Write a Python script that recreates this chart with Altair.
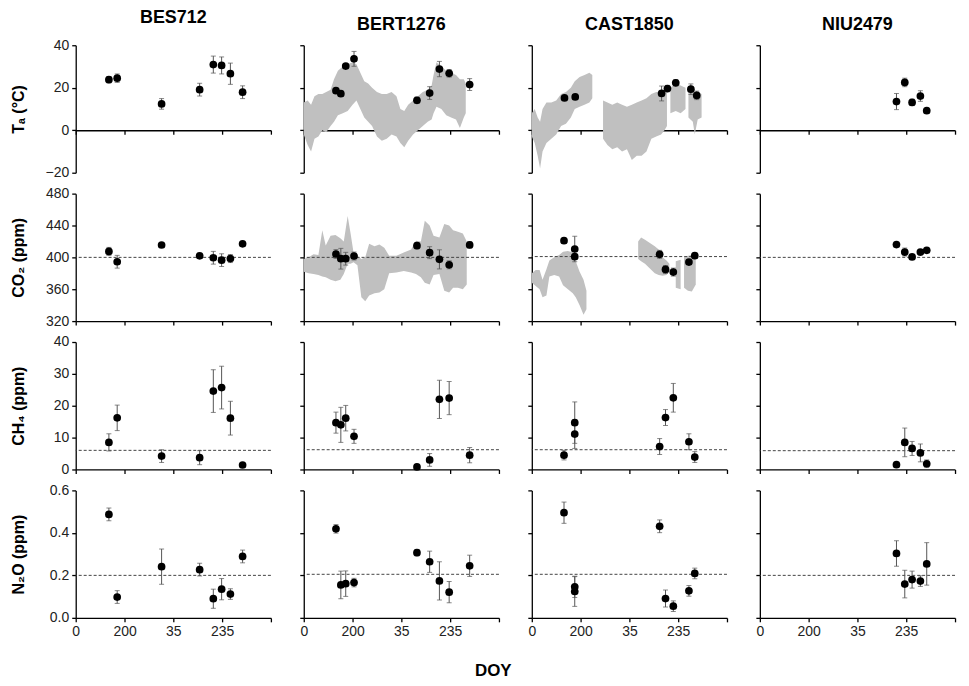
import altair as alt
import pandas as pd

FONT = "Liberation Sans, Arial, DejaVu Sans"

sites = ["BES712", "BERT1276", "CAST1850", "NIU2479"]
row_titles = ["Tₐ (°C)", "CO₂ (ppm)", "CH₄ (ppm)", "N₂O (ppm)"]
x_tick_values = [0, 1, 2, 3, 4]
x_tick_labels = ["0", "200", "35", "235", ""]

ta_ticks = [-20, 0, 20, 40]
co2_ticks = [320, 360, 400, 440, 480]
ch4_ticks = [0, 10, 20, 30, 40]
n2o_ticks = [0.0, 0.2, 0.4, 0.6]

# ---- BES712 ----
bes_x = [0.68, 0.85, 1.76, 2.54, 2.82, 2.99, 3.17, 3.42]
bes_ta_v = [23.8, 24.5, 12.4, 19.1, 30.9, 30.5, 26.6, 17.9]
bes_ta_e = [1.5, 2.0, 2.5, 3.0, 4.0, 4.0, 5.0, 3.0]
bes_co2_v = [407.5, 394.5, 415.5, 402.0, 399.5, 396.5, 398.5, 417.0]
bes_co2_e = [5, 8, 2, 3, 8, 8, 5, 3]
bes_ch4_v = [8.5, 16.2, 4.2, 3.7, 24.6, 25.7, 16.1, 1.4]
bes_ch4_e = [2.7, 4.0, 2.0, 2.2, 6.7, 6.7, 5.3, 0.4]
bes_n2o_v = [0.487, 0.098, 0.241, 0.227, 0.090, 0.135, 0.112, 0.289]
bes_n2o_e = [0.03, 0.03, 0.083, 0.03, 0.045, 0.05, 0.025, 0.03]

# ---- BERT1276 ----
bert_x = [0.66, 0.76, 0.86, 1.03, 2.32, 2.58, 2.78, 2.98, 3.40]
bert_ta_v = [18.6, 17.2, 30.2, 33.6, 14.1, 17.5, 28.8, 26.8, 21.5]
bert_ta_e = [1.0, 1.0, 1.0, 3.5, 1.5, 3.0, 3.6, 1.8, 2.8]
bert_co2_v = [404.2, 398.3, 398.3, 401.7, 414.7, 405.9, 397.5, 390.7, 415.6]
bert_co2_e = [5.5, 13, 8, 5, 4, 7.5, 12, 5, 4]
bert_ch4_v = [14.7, 14.0, 16.1, 10.4, 0.8, 3.0, 22.0, 22.4, 4.5]
bert_ch4_e = [3.3, 5.5, 4.0, 2.2, 0.3, 2.0, 6.0, 5.2, 2.4]
bert_n2o_v = [0.419, 0.155, 0.161, 0.166, 0.307, 0.264, 0.174, 0.121, 0.245]
bert_n2o_e = [0.02, 0.065, 0.06, 0.02, 0.015, 0.05, 0.09, 0.05, 0.05]

# ---- CAST1850 ----
cast_ta_x = [0.67, 0.89, 2.66, 2.78, 2.95, 3.26, 3.38]
cast_ta_v = [15.2, 15.7, 17.3, 19.6, 22.3, 19.3, 16.4]
cast_ta_e = [1.0, 1.0, 3.5, 1.5, 1.5, 2.5, 2.0]
cast_x = [0.66, 0.88, 0.88, 2.62, 2.74, 2.90, 3.22, 3.34]
cast_co2_v = [421.0, 410.5, 400.8, 403.8, 384.8, 381.5, 394.1, 402.1]
cast_co2_e = [3, 16, 3, 5, 5, 5, 3, 3]
cast_ch4_v = [4.5, 14.7, 11.1, 7.2, 16.3, 22.5, 8.7, 3.9]
cast_ch4_e = [1.5, 6.5, 4.5, 2.5, 2.5, 4.5, 2.5, 1.7]
cast_n2o_v = [0.495, 0.146, 0.124, 0.431, 0.091, 0.055, 0.127, 0.209]
cast_n2o_e = [0.05, 0.05, 0.07, 0.03, 0.04, 0.025, 0.025, 0.025]

# ---- NIU2479 ----
niu_x = [2.80, 2.97, 3.12, 3.29, 3.42]
niu_ta_v = [13.5, 22.5, 13.1, 16.1, 9.2]
niu_ta_e = [3.8, 2.0, 1.5, 2.5, 0.5]
niu_co2_v = [416.0, 406.7, 400.6, 406.7, 408.9]
niu_co2_e = [2, 5, 3, 2, 2]
niu_ch4_v = [1.5, 8.5, 6.6, 5.2, 1.8]
niu_ch4_e = [0.3, 4.5, 2.2, 2.8, 1.2]
niu_n2o_v = [0.303, 0.159, 0.180, 0.173, 0.254]
niu_n2o_e = [0.06, 0.065, 0.04, 0.025, 0.10]

# ---- reference (dashed) levels ----
co2_ref = [400, 400, 401, 400]
ch4_ref = [6.0, 6.2, 6.2, 5.9]
n2o_ref = [0.200, 0.205, 0.205, 0.200]

# ---- continuous background records (envelope) ----
bert_ta_band_x = [0.00, 0.08, 0.15, 0.22, 0.30, 0.38, 0.46, 0.55, 0.62, 0.70, 0.80,
                  0.90, 1.00, 1.08, 1.16, 1.24, 1.32, 1.40, 1.50, 1.60, 1.70, 1.80,
                  1.90, 1.98, 2.06, 2.14, 2.24, 2.34, 2.44, 2.54, 2.62, 2.66, 2.72,
                  2.82, 2.92, 3.02, 3.12, 3.20, 3.28, 3.32]
bert_ta_band_lo = [-2, -7, -10, -4, -3, 0, -1, 2, 4, 7, 8, 9, 12, 14, 10, 6, 4, 2, -3, -5,
                   -4, -2, -3, -6, -8, -5, -2, 0, 2, 4, 5, 8, 11, 10, 7, 6, 5, 1, 6, 8]
bert_ta_band_hi = [13, 14, 12, 16, 17, 17, 18, 19, 24, 28, 30, 31, 32, 31, 27, 23, 22, 20,
                   18, 17, 17, 18, 16, 10, 9, 12, 14, 16, 18, 19, 21, 26, 32, 30, 28, 27,
                   26, 24, 24, 22]

cast_ta_band_seg = [1] * 16 + [2] * 15 + [3] * 4 + [4] * 5
cast_ta_band_x = [0.00, 0.06, 0.12, 0.17, 0.22, 0.30, 0.40, 0.50, 0.60, 0.70, 0.80, 0.88,
                  0.98, 1.08, 1.18, 1.24,
                  1.46, 1.55, 1.65, 1.75, 1.85, 1.95, 2.05, 2.15, 2.25, 2.35, 2.45, 2.55,
                  2.65, 2.72, 2.77,
                  2.84, 2.95, 3.05, 3.15,
                  3.21, 3.30, 3.34, 3.40, 3.48]
cast_ta_band_lo = [-3, -6, -12, -18, -10, -6, -4, -2, 2, 3, 6, 10, 11, 12, 13, 15,
                   -4, -7, -9, -8, -10, -9, -14, -12, -12, -10, -4, -3, -2, 0, 2,
                   8, 9, 8, 10,
                   6, 4, -2, 5, 6]
cast_ta_band_hi = [8, 10, 6, 4, 10, 13, 13, 14, 17, 18, 20, 23, 25, 26, 27, 26,
                   14, 13, 12, 13, 12, 11, 12, 13, 14, 15, 17, 18, 18, 19, 20,
                   20, 22, 21, 20,
                   19, 19, 17, 18, 17]

bert_co2_band_x = [0.00, 0.10, 0.20, 0.30, 0.38, 0.45, 0.55, 0.65, 0.75, 0.82, 0.90, 0.96,
                   1.02, 1.10, 1.18, 1.26, 1.34, 1.45, 1.55, 1.65, 1.75, 1.90, 2.05, 2.20,
                   2.30, 2.40, 2.48, 2.58, 2.66, 2.78, 2.88, 2.98, 3.06, 3.16, 3.26, 3.34]
bert_co2_band_lo = [382, 380, 379, 378, 376, 375, 372, 370, 372, 379, 392, 392, 394, 390,
                    350, 345, 352, 355, 356, 360, 380, 381, 383, 381, 379, 375, 368, 366,
                    378, 379, 358, 356, 362, 362, 360, 366]
bert_co2_band_hi = [398, 400, 404, 403, 434, 415, 427, 428, 424, 420, 452, 430, 406, 402,
                    398, 400, 417, 414, 416, 412, 402, 402, 406, 410, 421, 420, 446, 440,
                    427, 425, 442, 440, 434, 432, 430, 420]

cast_co2_band_seg = [1] * 15 + [2] * 9 + [3] * 2 + [4] * 4
cast_co2_band_x = [0.00, 0.08, 0.16, 0.22, 0.30, 0.36, 0.46, 0.56, 0.64, 0.74, 0.84, 0.90,
                   0.98, 1.06, 1.12,
                   2.18, 2.24, 2.32, 2.42, 2.52, 2.60, 2.68, 2.76, 2.82,
                   2.95, 3.05,
                   3.12, 3.20, 3.28, 3.36]
cast_co2_band_lo = [368, 364, 360, 350, 352, 376, 378, 376, 365, 360, 355, 350, 340, 328, 335,
                    398, 395, 392, 386, 380, 378, 377, 378, 382,
                    362, 360,
                    362, 358, 357, 366]
cast_co2_band_hi = [380, 384, 384, 372, 385, 396, 400, 403, 407, 408, 406, 395, 382, 372, 358,
                    420, 425, 422, 418, 414, 410, 400, 396, 392,
                    395, 397,
                    400, 402, 403, 400]

W, H = 196, 128

label_expr = " : ".join(
    f"datum.value == {v} ? '{l}'" for v, l in zip(x_tick_values, x_tick_labels)
) + " : ''"

rows = [
    dict(ticks=ta_ticks, domain=[-20, 40], fmt="d"),
    dict(ticks=co2_ticks, domain=[320, 480], fmt="d"),
    dict(ticks=ch4_ticks, domain=[0, 40], fmt="d"),
    dict(ticks=n2o_ticks, domain=[0, 0.6], fmt=".1f"),
]

points = {
    (0, 0): (bes_x, bes_ta_v, bes_ta_e),
    (1, 0): (bes_x, bes_co2_v, bes_co2_e),
    (2, 0): (bes_x, bes_ch4_v, bes_ch4_e),
    (3, 0): (bes_x, bes_n2o_v, bes_n2o_e),
    (0, 1): (bert_x, bert_ta_v, bert_ta_e),
    (1, 1): (bert_x, bert_co2_v, bert_co2_e),
    (2, 1): (bert_x, bert_ch4_v, bert_ch4_e),
    (3, 1): (bert_x, bert_n2o_v, bert_n2o_e),
    (0, 2): (cast_ta_x, cast_ta_v, cast_ta_e),
    (1, 2): (cast_x, cast_co2_v, cast_co2_e),
    (2, 2): (cast_x, cast_ch4_v, cast_ch4_e),
    (3, 2): (cast_x, cast_n2o_v, cast_n2o_e),
    (0, 3): (niu_x, niu_ta_v, niu_ta_e),
    (1, 3): (niu_x, niu_co2_v, niu_co2_e),
    (2, 3): (niu_x, niu_ch4_v, niu_ch4_e),
    (3, 3): (niu_x, niu_n2o_v, niu_n2o_e),
}

bands = {
    (0, 1): (bert_ta_band_x, bert_ta_band_lo, bert_ta_band_hi, [1] * len(bert_ta_band_x)),
    (0, 2): (cast_ta_band_x, cast_ta_band_lo, cast_ta_band_hi, cast_ta_band_seg),
    (1, 1): (bert_co2_band_x, bert_co2_band_lo, bert_co2_band_hi, [1] * len(bert_co2_band_x)),
    (1, 2): (cast_co2_band_x, cast_co2_band_lo, cast_co2_band_hi, cast_co2_band_seg),
}

refs = {1: co2_ref, 2: ch4_ref, 3: n2o_ref}


def make_panel(r, c):
    cfg = rows[r]
    xaxis = alt.Axis(
        values=x_tick_values, labels=(r == 3), labelExpr=label_expr, labelFlush=False,
        tickSize=4, grid=False, title=None, offset=(-H / 3 if r == 0 else 0),
        labelFontSize=14, labelPadding=3,
    )
    yaxis = alt.Axis(
        values=cfg["ticks"], labels=(c == 0), format=cfg["fmt"], tickSize=4, grid=False,
        title=(row_titles[r] if c == 0 else None), titleX=-49, titleFontSize=16,
        titleFontWeight="bold", labelFontSize=14, labelPadding=3,
    )
    xs = alt.Scale(domain=[0, 4], nice=False, zero=False)
    ys = alt.Scale(domain=cfg["domain"], nice=False, zero=False)

    def X():
        return alt.X("x:Q", scale=xs, axis=xaxis)

    def Y(field):
        return alt.Y(f"{field}:Q", scale=ys, axis=yaxis)

    layers = []
    if (r, c) in bands:
        bx, blo, bhi, bseg = bands[(r, c)]
        bdf = pd.DataFrame({"x": bx, "lo": blo, "hi": bhi, "seg": bseg})
        layers.append(
            alt.Chart(bdf).mark_area(color="#c0c0c0", opacity=1, interpolate="linear")
            .encode(x=X(), y=Y("lo"), y2="hi:Q", detail="seg:N")
        )
    if r in refs:
        rdf = pd.DataFrame({"v": [refs[r][c]]})
        layers.append(
            alt.Chart(rdf).mark_rule(color="#444444", strokeDash=[3, 2], strokeWidth=1)
            .encode(y=Y("v"))
        )
    px, pv, pe = points[(r, c)]
    pdf = pd.DataFrame({"x": px, "v": pv, "e": pe})
    pdf["lo"] = pdf["v"] - pdf["e"]
    pdf["hi"] = pdf["v"] + pdf["e"]
    base = alt.Chart(pdf)
    layers.append(base.mark_rule(color="#555555", strokeWidth=1)
                  .encode(x=X(), y=Y("lo"), y2="hi:Q"))
    layers.append(base.mark_tick(color="#555555", orient="horizontal", size=5, thickness=1)
                  .encode(x=X(), y=Y("lo")))
    layers.append(base.mark_tick(color="#555555", orient="horizontal", size=5, thickness=1)
                  .encode(x=X(), y=Y("hi")))
    layers.append(base.mark_circle(color="black", size=60, opacity=1)
                  .encode(x=X(), y=Y("v")))

    ch = alt.layer(*layers).properties(width=W, height=H)
    if r == 0:
        ch = ch.properties(title=alt.TitleParams(
            sites[c], fontSize=18, fontWeight="bold", frame="group", offset=11,
            anchor="middle"))
    return ch


panels = [make_panel(r, c) for r in range(4) for c in range(4)]

chart = alt.concat(
    *panels, columns=4, spacing={"row": 21, "column": 33}, bounds="flush"
).properties(
    title=alt.TitleParams("DOY", orient="bottom", fontSize=17, fontWeight="bold",
                          offset=24, anchor="middle", dx=10),
    padding={"left": 3, "top": 0, "right": 5, "bottom": 0},
).configure_axis(
    domainColor="black", tickColor="black", labelColor="#222222", titleColor="black",
    domainWidth=1.3, tickWidth=1.3, labelFont=FONT, titleFont=FONT,
).configure_title(
    font=FONT, color="black",
).configure_view(stroke=None)

chart.save("out.html", embed_options={"renderer": "svg", "actions": False})
